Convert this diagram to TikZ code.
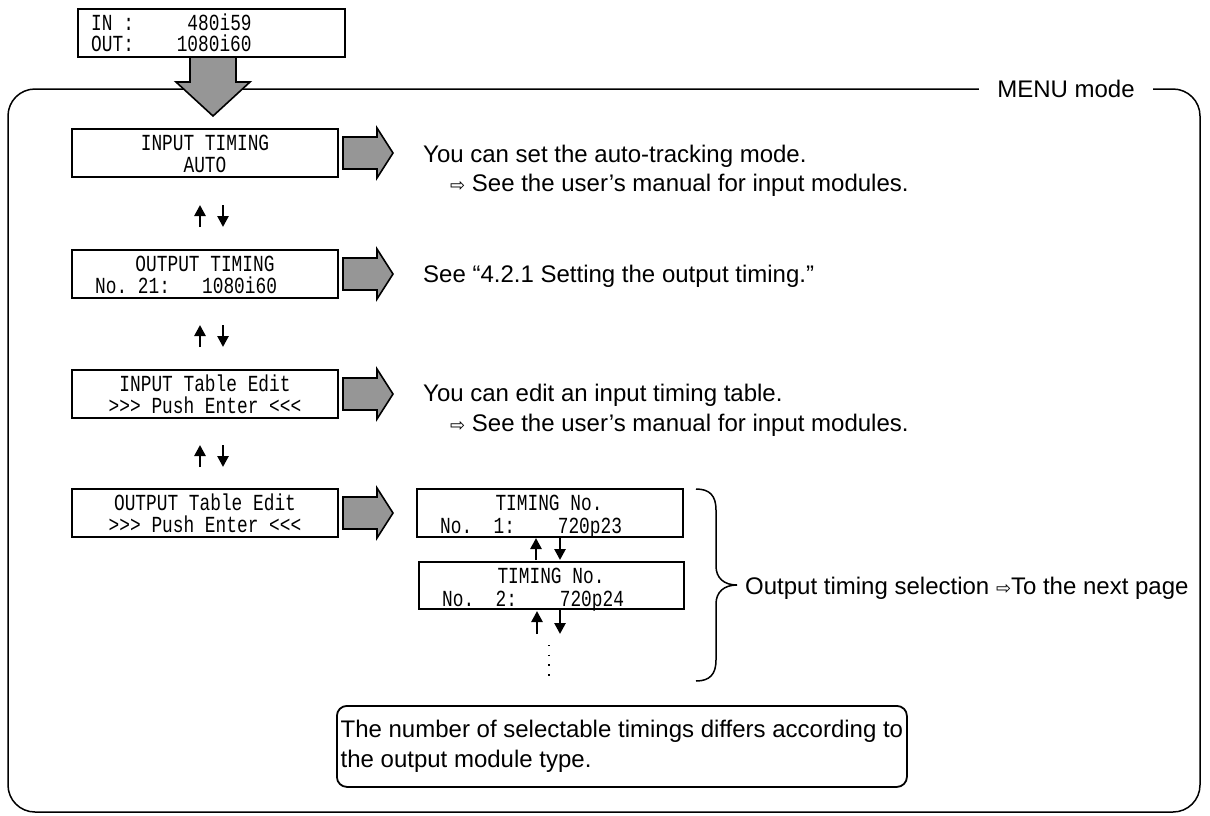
\documentclass[tikz,border=0pt]{standalone}
\usepackage{fontspec}
\setmainfont{Liberation Sans}
\newfontfamily\lcdfont[FakeStretch=0.775]{Liberation Mono}
\newfontfamily\symfont{DejaVu Sans}
\usetikzlibrary{arrows.meta}
\definecolor{arrowgray}{RGB}{150,150,150}
\newcommand{\rarr}{{\symfont\fontsize{18}{20}\selectfont ⇨}}
\begin{document}
\begin{tikzpicture}[x=1pt,y=-1pt,
  lcd/.style={draw, line width=1.1pt, fill=white, inner sep=0pt, minimum width=266pt, minimum height=48pt},
  lcdtxt/.style={font=\lcdfont\fontsize{23}{26}\selectfont, inner sep=0pt, anchor=base},
  lcdtxtl/.style={lcdtxt, anchor=base west},
  txt/.style={font=\fontsize{24}{29}\selectfont, inner sep=0pt, anchor=base west},
  updown/.style={line width=2.6pt, -{Triangle[width=11pt,length=11pt]}},
  blockarrow/.style={draw, fill=arrowgray, line width=1.6pt, line join=miter}]
\useasboundingbox (0,0) rectangle (1210,815);

% outer frame
\node[draw, line width=1.5pt, rounded corners=27pt, minimum width=1192pt, minimum height=723pt, inner sep=0pt] (frame) at (604,450.5) {};
\node[txt, anchor=center, fill=white, inner xsep=18pt, inner ysep=2pt] (menu) at (1066,89) {MENU mode};

% top status box
\node[lcd, minimum width=267pt] (status) at (211.5,33) {};
\node[lcdtxtl] (st1) at (91,30) {IN~:~~~~~480i59};
\node[lcdtxtl] (st2) at (91,51) {OUT:~~~~1080i60};
\draw[blockarrow] (190,57) -- (190,82) -- (176,82) -- (213,116) -- (250,82) -- (236,82) -- (236,57) -- cycle;

% menu boxes
\node[lcd] (m1) at (205,153) {};
\node[lcdtxt] (m1a) at (205,150) {INPUT TIMING};
\node[lcdtxt] (m1b) at (205,172) {AUTO};

\node[lcd] (m2) at (205,274) {};
\node[lcdtxt] (m2a) at (205,271) {OUTPUT TIMING};
\node[lcdtxtl] (m2b) at (95,293) {No.~21:~~~1080i60};

\node[lcd] (m3) at (205,394) {};
\node[lcdtxt] (m3a) at (205,391) {INPUT Table Edit};
\node[lcdtxt] (m3b) at (205,413) {>{}>{}> Push Enter <{}<{}<};

\node[lcd] (m4) at (205,513) {};
\node[lcdtxt] (m4a) at (205,510) {OUTPUT Table Edit};
\node[lcdtxt] (m4b) at (205,532) {>{}>{}> Push Enter <{}<{}<};

% gray right arrows
\foreach \c in {153,274,394,513}{
  \draw[blockarrow] (343,\c-16) -- (377,\c-16) -- (377,\c-25) -- (393,\c) -- (377,\c+25) -- (377,\c+16) -- (343,\c+16) -- cycle;
}

% up/down arrows between menu boxes
\foreach \c in {216,336,456}{
  \draw[updown] (200,\c+11) -- (200,\c-11);
  \draw[updown] (223,\c-11) -- (223,\c+11);
}

% explanations
\node[txt] (t1) at (423,162) {You can set the auto-tracking mode.};
\node[txt] (t1b) at (450,191) {\rarr\ See the user’s manual for input modules.};
\node[txt] (t2) at (423,282) {See “4.2.1 Setting the output timing.”};
\node[txt] (t3) at (423,401) {You can edit an input timing table.};
\node[txt] (t3b) at (450,431) {\rarr\ See the user’s manual for input modules.};

% timing boxes
\node[lcd] (ta) at (550,513) {};
\node[lcdtxt] (ta1) at (549,510) {TIMING No.};
\node[lcdtxtl] (ta2) at (440,533) {No.~~1:~~~~720p23};
\node[lcd, minimum width=265pt, minimum height=47pt] (tb) at (551.5,585.5) {};
\node[lcdtxt] (tb1) at (551,583) {TIMING No.};
\node[lcdtxtl] (tb2) at (442,606) {No.~~2:~~~~720p24};

\draw[updown] (536,560) -- (536,538);
\draw[updown] (560,538) -- (560,560);
\draw[updown] (537,634) -- (537,611);
\draw[updown] (560,610) -- (560,634);
\draw[line width=1.4pt, dash pattern=on 1.4pt off 8.3pt] (549,645) -- (549,676);

% brace
\draw[line width=1.5pt] (696,489) .. controls (710,489) and (716,496) .. (716,510) -- (716,566)
  .. controls (716,578) and (724,585) .. (737,585)
  .. controls (724,585) and (716,592) .. (716,604) -- (716,660)
  .. controls (716,674) and (710,681) .. (696,681);
\node[txt] (t4) at (745,594) {Output timing selection \rarr To the next page};

% note
\node[draw, line width=1.8pt, rounded corners=10pt, anchor=north west, minimum width=570pt, minimum height=81pt,
  inner xsep=3pt, inner ysep=0pt, align=left, font=\fontsize{24}{30}\selectfont] (note) at (336,705)
  {The number of selectable timings differs according to\\the output module type.};
\end{tikzpicture}
\end{document}
